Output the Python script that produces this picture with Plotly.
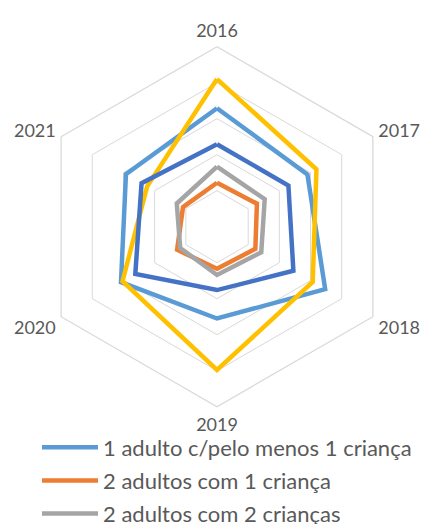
import plotly.graph_objects as go

# Taxa por tipo de agregado
anos = ["2016", "2017", "2018", "2019", "2020", "2021"]
um_adulto = [32.9, 29.0, 34.7, 25.5, 30.8, 29.2]
dois_adultos_1 = [12.2, 12.8, 12.3, 11.7, 12.8, 10.9]
dois_adultos_2 = [16.7, 15.3, 14.2, 13.4, 11.8, 12.9]
dois_adultos_3 = [41.0, 31.9, 30.7, 39.8, 30.3, 22.4]
com_criancas = [22.9, 22.9, 24.5, 17.6, 26.2, 24.2]

series = [
    ("1 adulto c/pelo menos 1 criança", um_adulto, "#5B9BD5", True),
    ("2 adultos com 1 criança", dois_adultos_1, "#ED7D31", True),
    ("2 adultos com 2 crianças", dois_adultos_2, "#A5A5A5", True),
    ("2 adultos com 3 ou mais crianças", dois_adultos_3, "#FFC000", False),
    ("Agregados com crianças dependentes", com_criancas, "#4472C4", False),
]

fig = go.Figure()
for i, (nome, vals, cor, leg) in enumerate(series):
    fig.add_trace(go.Scatterpolar(
        r=vals + vals[:1],
        theta=anos + anos[:1],
        mode="lines",
        name=nome,
        legendgroup=f"g{i}",
        showlegend=leg,
        line=dict(color=cor, width=4.5),
    ))

W, H = 423, 524
cx, cy, R = 217, 226.7, 180

fig.update_layout(
    width=W, height=H,
    margin=dict(l=0, r=0, t=0, b=0, autoexpand=False),
    paper_bgcolor="white",
    font=dict(family="Lato", color="#595959"),
    polar=dict(
        domain=dict(x=[(cx - R) / W, (cx + R) / W],
                    y=[(H - cy - R) / H, (H - cy + R) / H]),
        gridshape="linear",
        bgcolor="white",
        radialaxis=dict(range=[0, 50], dtick=10, showticklabels=False, ticks="",
                        showline=False, gridcolor="#D9D9D9", gridwidth=1.3),
        angularaxis=dict(rotation=90, direction="clockwise", showgrid=False,
                         showline=True, linecolor="#D9D9D9", linewidth=1.3,
                         ticks="outside", ticklen=2, tickcolor="rgba(0,0,0,0)",
                         tickfont=dict(size=18, color="#595959")),
    ),
    legend=dict(x=37 / W, y=1 - 426.5 / H, xanchor="left", yanchor="top",
                font=dict(size=22, color="#595959"), itemwidth=56,
                traceorder="grouped", tracegroupgap=1.5,
                bgcolor="rgba(0,0,0,0)"),
)

# drop the default page margin so the figure sits at the window's corner
fig.write_html("out.html", config={"displayModeBar": False},
               post_script="document.body.style.margin='0';document.body.style.overflow='hidden';")
